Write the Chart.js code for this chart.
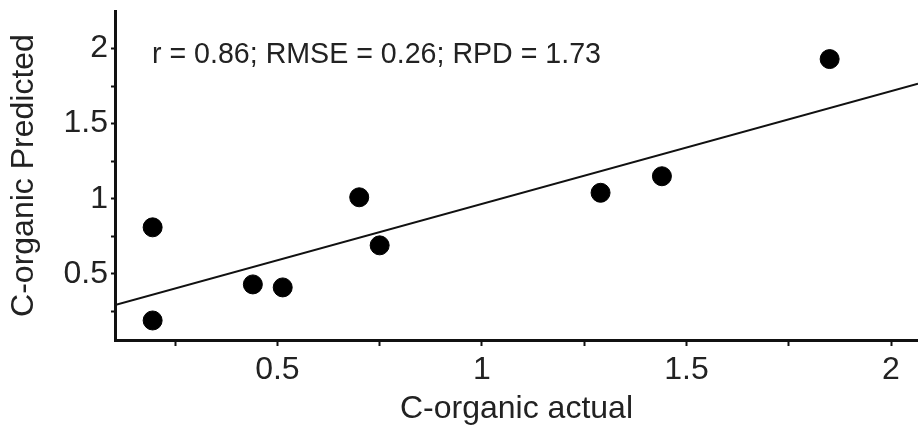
<!DOCTYPE html>
<html>
<head>
<meta charset="utf-8">
<script src="https://cdn.jsdelivr.net/npm/chart.js@4.4.1/dist/chart.umd.min.js"></script>
<style>
  html, body { margin: 0; padding: 0; background: #fff; }
  #wrap { width: 918px; height: 431px; }
</style>
</head>
<body>
<div id="wrap"><canvas id="scatterChart" width="918" height="431"></canvas></div>
<script>
    // measured vs predicted C-organic
    const actualValues = [0.195, 0.195, 0.44, 0.513, 0.70, 0.75, 1.29, 1.44, 1.85];
    const predictedValues = [0.81, 0.19, 0.43, 0.41, 1.01, 0.69, 1.04, 1.15, 1.93];

    // fitted line, read at both ends of the x axis
    const fitX = [0.103, 2.066];
    const fitY = [0.292, 1.766];

    const xTicks = [0.25, 0.5, 0.75, 1, 1.25, 1.5, 1.75, 2];
    const xTickLabels = ["", "0.5", "", "1", "", "1.5", "", "2"];
    const yTicks = [0.25, 0.5, 0.75, 1, 1.25, 1.5, 1.75, 2];
    const yTickLabels = ["", "0.5", "", "1", "", "1.5", "", "2"];

    const statsText = "r = 0.86; RMSE = 0.26; RPD = 1.73";

    const inkColor = "#222";
    const fontFamily = "'Liberation Sans', Arial, sans-serif";

    const statsLabel = {
      id: "statsLabel",
      afterDatasetsDraw(chart) {
        const ctx = chart.ctx;
        ctx.save();
        ctx.font = "28.6px " + fontFamily;
        ctx.fillStyle = inkColor;
        ctx.textBaseline = "middle";
        ctx.textAlign = "left";
        ctx.fillText(statsText, chart.chartArea.left + 37, 55);
        ctx.restore();
      }
    };

    function axisTicks(values) {
      return scale => { scale.ticks = values.map(v => ({ value: v })); };
    }

    // keep the plot area flush with the edges, no room reserved for end labels
    function noEdgePadding(scale) {
      scale.paddingLeft = 0;
      scale.paddingRight = 0;
      scale.paddingTop = 0;
      scale.paddingBottom = 0;
    }

    const ctx = document.getElementById("scatterChart").getContext("2d");
    new Chart(ctx, {
      type: "scatter",
      data: {
        datasets: [
          {
            label: "samples",
            data: actualValues.map((x, i) => ({ x, y: predictedValues[i] })),
            backgroundColor: "#000",
            borderColor: "#000",
            pointRadius: 9.5,
            pointHoverRadius: 9.5,
            order: 1
          },
          {
            label: "fit",
            type: "line",
            data: fitX.map((x, i) => ({ x, y: fitY[i] })),
            borderColor: "#111",
            borderWidth: 2,
            pointRadius: 0,
            fill: false,
            order: 2
          }
        ]
      },
      options: {
        responsive: false,
        animation: false,
        devicePixelRatio: 1,
        layout: { autoPadding: false, padding: { top: 11, right: 0, left: 0, bottom: 0 } },
        plugins: {
          legend: { display: false },
          tooltip: { enabled: false }
        },
        scales: {
          x: {
            type: "linear",
            min: 0.103,
            max: 2.066,
            afterBuildTicks: axisTicks(xTicks),
            afterFit: scale => { scale.height = 91; noEdgePadding(scale); },
            border: { display: true, color: "#111", width: 3 },
            grid: {
              display: true,
              drawOnChartArea: false,
              drawTicks: true,
              tickLength: 6,
              tickColor: "#111",
              tickWidth: 2
            },
            ticks: {
              color: inkColor,
              font: { size: 32, family: fontFamily },
              padding: 5,
              maxRotation: 0,
              autoSkip: false,
              callback: (v, i) => xTickLabels[i]
            },
            title: {
              display: true,
              text: "C-organic actual",
              color: inkColor,
              font: { size: 32, family: fontFamily },
              padding: { top: 0, bottom: 3 }
            }
          },
          y: {
            type: "linear",
            min: 0.06,
            max: 2.25,
            afterBuildTicks: axisTicks(yTicks),
            afterFit: scale => { scale.width = 115; noEdgePadding(scale); },
            border: { display: true, color: "#111", width: 3 },
            grid: {
              display: true,
              drawOnChartArea: false,
              drawTicks: true,
              tickLength: 4,
              tickColor: "#111",
              tickWidth: 2
            },
            ticks: {
              color: inkColor,
              font: { size: 32, family: fontFamily },
              padding: 3,
              autoSkip: false,
              callback: (v, i) => yTickLabels[i]
            },
            title: {
              display: true,
              text: "C-organic Predicted",
              color: inkColor,
              font: { size: 32, family: fontFamily },
              padding: { top: 5, bottom: 0 }
            }
          }
        }
      },
      plugins: [statsLabel]
    });
</script>
</body>
</html>
